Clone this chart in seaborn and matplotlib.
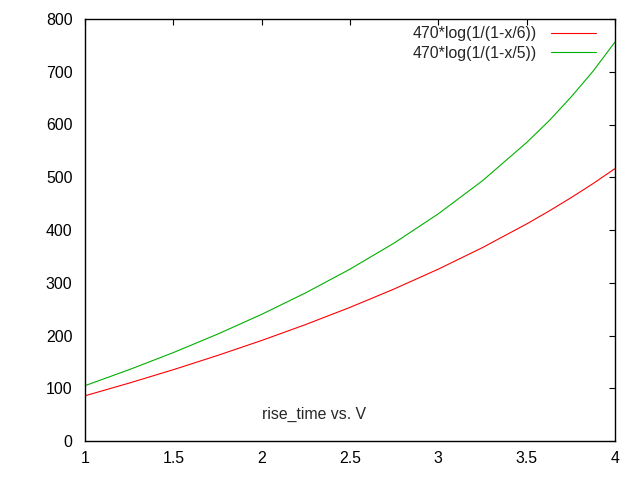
import matplotlib
matplotlib.use("Agg")
import matplotlib.pyplot as plt
import seaborn as sns
import pandas as pd
from matplotlib.lines import Line2D

x_vals = [1.0, 1.25, 1.5, 1.75, 2.0, 2.25, 2.5, 2.75, 3.0, 3.25, 3.5, 3.625, 3.75, 3.875, 4.0]
y_six = [85.7, 109.8, 135.2, 162.1, 190.6, 220.9, 253.3, 288.2, 325.8, 366.7, 411.5, 435.6, 461.0, 487.8, 516.4]
y_five = [104.9, 135.2, 167.6, 202.5, 240.1, 281.0, 325.8, 375.3, 430.7, 493.4, 565.9, 606.4, 651.6, 700.7, 756.4]
label_six = "470*log(1/(1-x/6))"
label_five = "470*log(1/(1-x/5))"
x_ticks = [1, 1.5, 2, 2.5, 3, 3.5, 4]
x_tick_labels = ["1", "1.5", "2", "2.5", "3", "3.5", "4"]
y_ticks = [0, 100, 200, 300, 400, 500, 600, 700, 800]

RED = "#ff0000"
GREEN = "#00b000"
FS = 11.4

sns.set_style("white")
plt.rcParams['font.family'] = ['Liberation Sans', 'DejaVu Sans']

df = pd.DataFrame({
    "x": x_vals + x_vals,
    "y": y_six + y_five,
    "series": [label_six] * len(x_vals) + [label_five] * len(x_vals),
})

fig = plt.figure(figsize=(6.4, 4.8), dpi=100)
ax = fig.add_axes([85 / 640, 1 - 441 / 480, 530 / 640, 422 / 480])
sns.lineplot(data=df, x="x", y="y", hue="series",
             palette={label_six: RED, label_five: GREEN},
             linewidth=0.8, ax=ax, legend=False)

ax.set_xlim(1, 4)
ax.set_ylim(0, 800)
ax.set_xticks(x_ticks)
ax.set_xticklabels(x_tick_labels)
ax.set_yticks(y_ticks)
ax.set_xlabel("")
ax.set_ylabel("")
ax.tick_params(direction="in", length=4.5, width=0.8, top=True, right=True,
               labelsize=FS, colors="black")
ax.tick_params(axis="x", pad=7)
ax.tick_params(axis="y", pad=9)
for s in ax.spines.values():
    s.set_visible(True)
    s.set_color("black")
    s.set_linewidth(1.0)

handles = [Line2D([], [], color=RED, lw=0.8), Line2D([], [], color=GREEN, lw=0.8)]
ax.legend(handles, [label_six, label_five], loc="upper right", frameon=False,
          markerfirst=False, fontsize=FS, handlelength=2.85, handletextpad=0.9,
          labelspacing=0.28, borderaxespad=0.0, borderpad=0.4,
          bbox_to_anchor=(602.5 / 640, 1 - 20 / 480), bbox_transform=fig.transFigure)

ax.text(2.0, 51, "rise_time vs. V", fontsize=FS, ha="left", va="center")

fig.savefig("out.png", dpi=100)
